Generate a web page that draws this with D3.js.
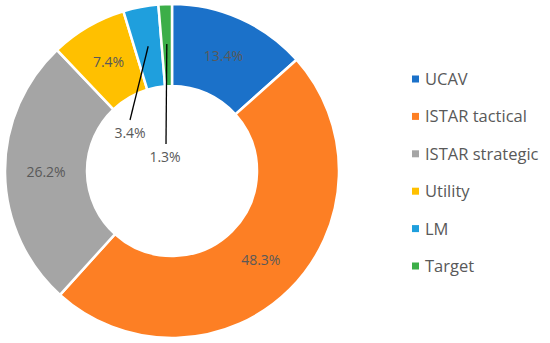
<!DOCTYPE html>
<html>
<head>
<meta charset="utf-8">
<script src="https://cdn.jsdelivr.net/npm/d3@7"></script>
<style>
  body { margin: 0; background: #fff; }
  text { font-family: "Open Sans", "Noto Sans", sans-serif; }
</style>
</head>
<body>
<script>
/* donut of UAV categories */
const categories = ["UCAV", "ISTAR tactical", "ISTAR strategic", "Utility", "LM", "Target"];
const shares = [13.4, 48.3, 26.2, 7.4, 3.4, 1.3];
const colors = ["#1b71c9", "#fd7f24", "#a5a5a5", "#ffc000", "#1f9fdd", "#3cae48"];

const width = 550, height = 343;
const cx = 172, cy = 171, rOuter = 167, rInner = 85;

var svg = d3.select("body").append("svg")
    .attr("width", width)
    .attr("height", height);

const data = categories.map((c, i) => ({ name: c, value: shares[i], color: colors[i] }));

const pie = d3.pie().value(d => d.value).sort(null);
const arcs = pie(data);
const arc = d3.arc().innerRadius(rInner).outerRadius(rOuter);

const g = svg.append("g").attr("transform", `translate(${cx},${cy})`);

g.selectAll("path")
    .data(arcs)
    .enter()
    .append("path")
    .attr("d", arc)
    .attr("fill", d => d.data.color)
    .attr("stroke", "#fff")
    .attr("stroke-width", 2.5);

// label positions: ring middle for big slices, pulled into the hole for tiny ones
const labelArc = d3.arc().innerRadius(126).outerRadius(126);
const inside = { "LM": [-42, -38], "Target": [-7, -14] };

arcs.forEach(function(d) {
    const name = d.data.name;
    let p = labelArc.centroid(d);
    if (inside[name]) {
        const anchor = d3.arc().innerRadius(rOuter - 40).outerRadius(rOuter - 40).centroid(d);
        const t = inside[name];
        g.append("line")
            .attr("x1", anchor[0]).attr("y1", anchor[1])
            .attr("x2", t[0] + (name === "LM" ? 0 : 1)).attr("y2", t[1] - 13)
            .attr("stroke", "#000")
            .attr("stroke-width", 1.3);
        p = t;
    }
    g.append("text")
        .attr("x", p[0])
        .attr("y", p[1])
        .attr("text-anchor", "middle")
        .attr("dy", "0.35em")
        .attr("fill", "#595959")
        .style("font-size", "14px")
        .text(d.data.value.toFixed(1) + "%");
});

// legend
const legend = svg.append("g").attr("transform", "translate(412,79)");
const rows = legend.selectAll("g")
    .data(data)
    .enter()
    .append("g")
    .attr("transform", (d, i) => `translate(0,${i * 37.4})`);

rows.append("rect")
    .attr("x", 0).attr("y", -3.5)
    .attr("width", 7).attr("height", 7)
    .attr("fill", d => d.color);

rows.append("text")
    .attr("x", 13)
    .attr("dy", "0.36em")
    .attr("fill", "#595959")
    .style("font-size", "16.5px")
    .text(d => d.name);
</script>
</body>
</html>
